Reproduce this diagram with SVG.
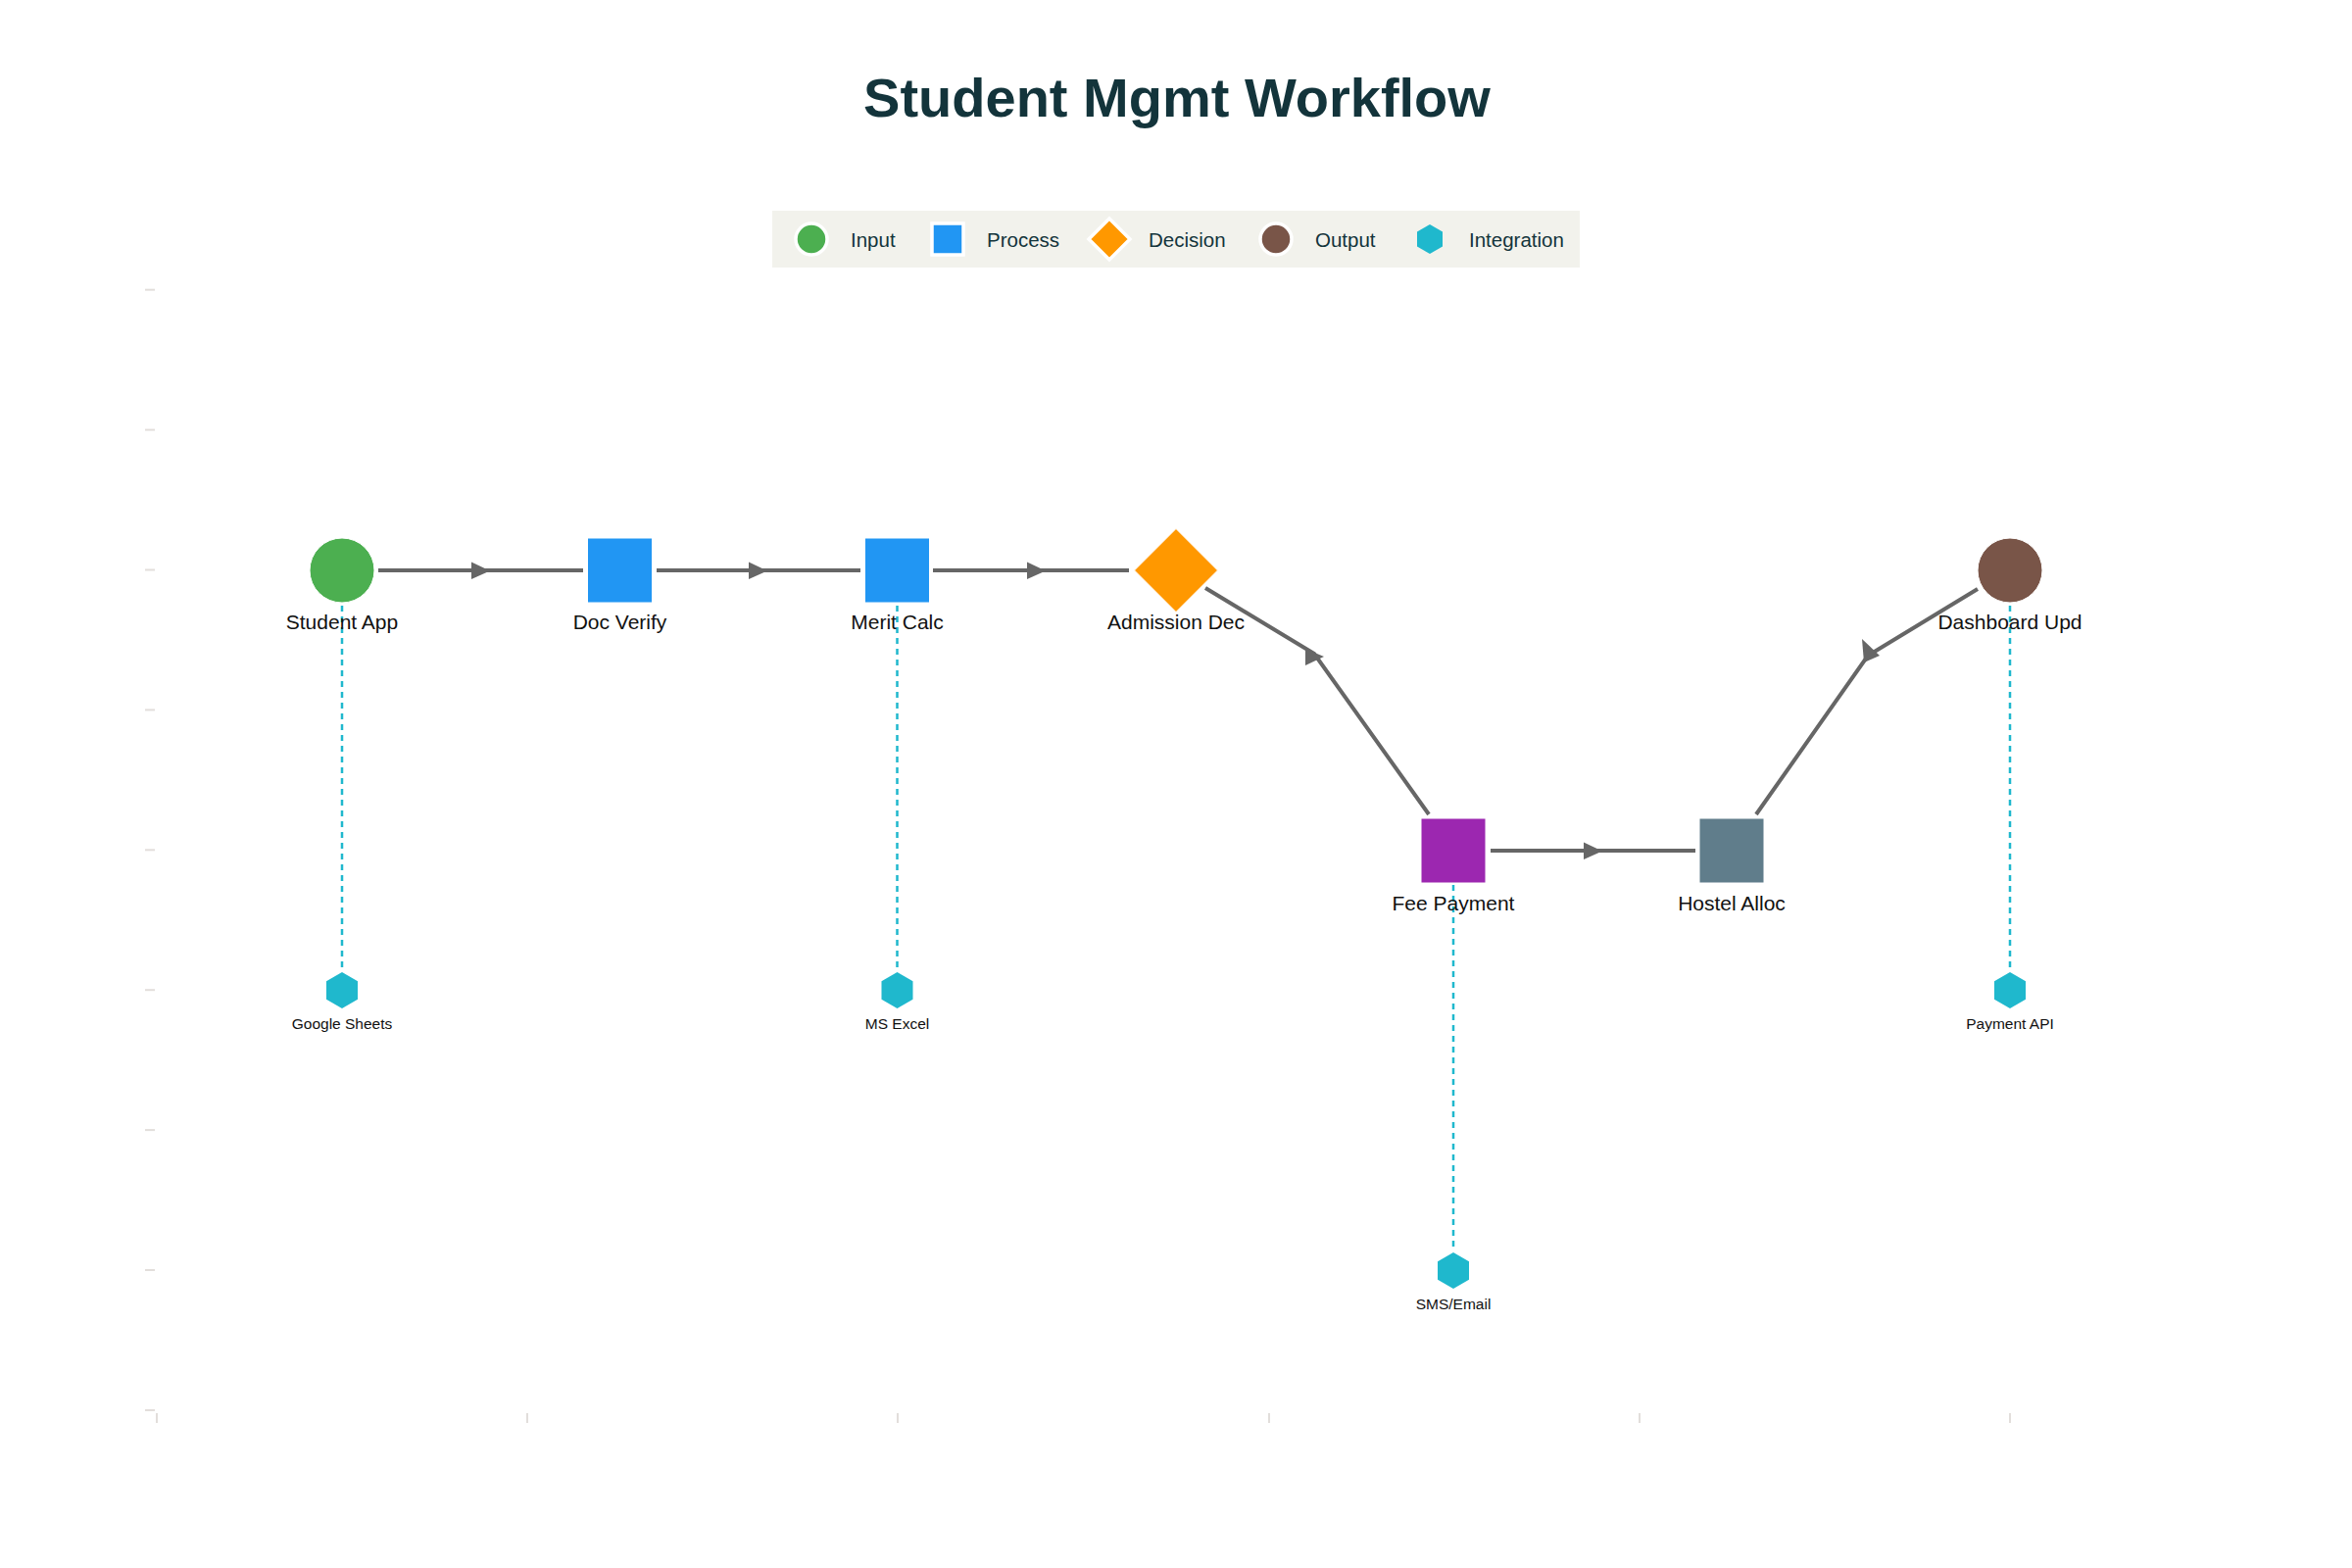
<svg xmlns="http://www.w3.org/2000/svg" width="2400" height="1600" viewBox="0 0 2400 1600">
<style>
.title{font-family:"Liberation Sans",Arial,sans-serif;font-weight:bold;font-size:56px;fill:#13343B}
.leg{font-family:"Liberation Sans",Arial,sans-serif;font-size:20.5px;fill:#13343B}
.lbl{font-family:"Liberation Sans",Arial,sans-serif;font-size:21px;fill:#111;text-anchor:middle}
.ilbl{font-family:"Liberation Sans",Arial,sans-serif;font-size:15.5px;fill:#111;text-anchor:middle}
.tick{stroke:#e2dedb;stroke-width:2}
.edge{stroke:#666;stroke-width:4;fill:none}
.arr{fill:#666}
.dash{stroke:#1FB8CD;stroke-width:2.5;stroke-dasharray:6,5;fill:none}
.nd{stroke:#fff;stroke-width:1}
</style>
<defs>
<polygon id="hex" points="0,-18.5 16,-9.25 16,9.25 0,18.5 -16,9.25 -16,-9.25" fill="#1FB8CD"/>
</defs>
<rect width="2400" height="1600" fill="#fff"/>
<text class="title" x="1201" y="119" text-anchor="middle">Student Mgmt Workflow</text>
<g id="legend">
<rect x="788" y="215" width="824" height="58" fill="#F2F2EC"/>
<circle cx="828" cy="244" r="16" fill="#4CAF50" stroke="#fff" stroke-width="3.5"/>
<text class="leg" x="868" y="251.5">Input</text>
<rect x="951" y="228" width="32" height="32" fill="#2196F3" stroke="#fff" stroke-width="3.5"/>
<text class="leg" x="1007" y="251.5">Process</text>
<polygon points="1132,223 1153,244 1132,265 1111,244" fill="#FF9800" stroke="#fff" stroke-width="3.5"/>
<text class="leg" x="1172" y="251.5">Decision</text>
<circle cx="1302" cy="244" r="16" fill="#795548" stroke="#fff" stroke-width="3.5"/>
<text class="leg" x="1342" y="251.5">Output</text>
<polygon points="1459,229 1472,236.5 1472,251.5 1459,259 1446,251.5 1446,236.5" fill="#1FB8CD"/>
<text class="leg" x="1499" y="251.5">Integration</text>
</g>
<g id="axes">
<line class="tick" x1="148" y1="295.7" x2="158" y2="295.7"/>
<line class="tick" x1="148" y1="438.6" x2="158" y2="438.6"/>
<line class="tick" x1="148" y1="581.5" x2="158" y2="581.5"/>
<line class="tick" x1="148" y1="724.4" x2="158" y2="724.4"/>
<line class="tick" x1="148" y1="867.3" x2="158" y2="867.3"/>
<line class="tick" x1="148" y1="1010.2" x2="158" y2="1010.2"/>
<line class="tick" x1="148" y1="1153.1" x2="158" y2="1153.1"/>
<line class="tick" x1="148" y1="1296" x2="158" y2="1296"/>
<line class="tick" x1="148" y1="1439" x2="158" y2="1439"/>
<line class="tick" x1="160" y1="1442" x2="160" y2="1452"/>
<line class="tick" x1="538" y1="1442" x2="538" y2="1452"/>
<line class="tick" x1="916" y1="1442" x2="916" y2="1452"/>
<line class="tick" x1="1295" y1="1442" x2="1295" y2="1452"/>
<line class="tick" x1="1673" y1="1442" x2="1673" y2="1452"/>
<line class="tick" x1="2051" y1="1442" x2="2051" y2="1452"/>
</g>
<g id="connectors">
<line class="dash" x1="349" y1="618" x2="349" y2="990"/>
<line class="dash" x1="915.5" y1="618" x2="915.5" y2="990"/>
<line class="dash" x1="2051" y1="618" x2="2051" y2="990"/>
<line class="dash" x1="1483" y1="903" x2="1483" y2="1276"/>
<line class="edge" x1="386" y1="582" x2="595" y2="582"/>
<polygon class="arr" points="481,573.5 481,591 500,582.5"/>
<line class="edge" x1="670" y1="582" x2="878" y2="582"/>
<polygon class="arr" points="764,573.5 764,591 783,582.5"/>
<line class="edge" x1="952" y1="582" x2="1152" y2="582"/>
<polygon class="arr" points="1048,573.5 1048,591 1067,582.5"/>
<polyline class="edge" points="1230,600 1341,667 1458,831"/>
<polygon class="arr" points="1332,662 1332,679 1351,670"/>
<line class="edge" x1="1521" y1="868" x2="1730" y2="868"/>
<polygon class="arr" points="1616,859.5 1616,877 1635,868.5"/>
<polyline class="edge" points="1792,831 1906,669 2018,601"/>
<polygon class="arr" points="1900,652 1902,676 1918,669"/>
</g>
<g id="node-student-app">
<circle class="nd" cx="349" cy="582" r="33" fill="#4CAF50"/>
<text class="lbl" x="349" y="642">Student App</text>
</g>
<g id="node-doc-verify">
<rect class="nd" x="599.5" y="549" width="66" height="66" fill="#2196F3"/>
<text class="lbl" x="632.5" y="642">Doc Verify</text>
</g>
<g id="node-merit-calc">
<rect class="nd" x="882.5" y="549" width="66" height="66" fill="#2196F3"/>
<text class="lbl" x="915.5" y="642">Merit Calc</text>
</g>
<g id="node-admission-dec">
<polygon class="nd" points="1200,539.5 1242.5,582 1200,624.5 1157.5,582" fill="#FF9800"/>
<text class="lbl" x="1200" y="642">Admission Dec</text>
</g>
<g id="node-fee-payment">
<rect class="nd" x="1450" y="835" width="66" height="66" fill="#9C27B0"/>
<text class="lbl" x="1483" y="928.5">Fee Payment</text>
</g>
<g id="node-hostel-alloc">
<rect class="nd" x="1734" y="835" width="66" height="66" fill="#607D8B"/>
<text class="lbl" x="1767" y="928.5">Hostel Alloc</text>
</g>
<g id="node-dashboard-upd">
<circle class="nd" cx="2051" cy="582" r="33" fill="#795548"/>
<text class="lbl" x="2051" y="642">Dashboard Upd</text>
</g>
<g id="node-google-sheets">
<use href="#hex" x="349" y="1010.5"/>
<text class="ilbl" x="349" y="1050">Google Sheets</text>
</g>
<g id="node-ms-excel">
<use href="#hex" x="915.5" y="1010.5"/>
<text class="ilbl" x="915.5" y="1050">MS Excel</text>
</g>
<g id="node-payment-api">
<use href="#hex" x="2051" y="1010.5"/>
<text class="ilbl" x="2051" y="1050">Payment API</text>
</g>
<g id="node-sms-email">
<use href="#hex" x="1483" y="1296.5"/>
<text class="ilbl" x="1483" y="1336">SMS/Email</text>
</g>
</svg>
